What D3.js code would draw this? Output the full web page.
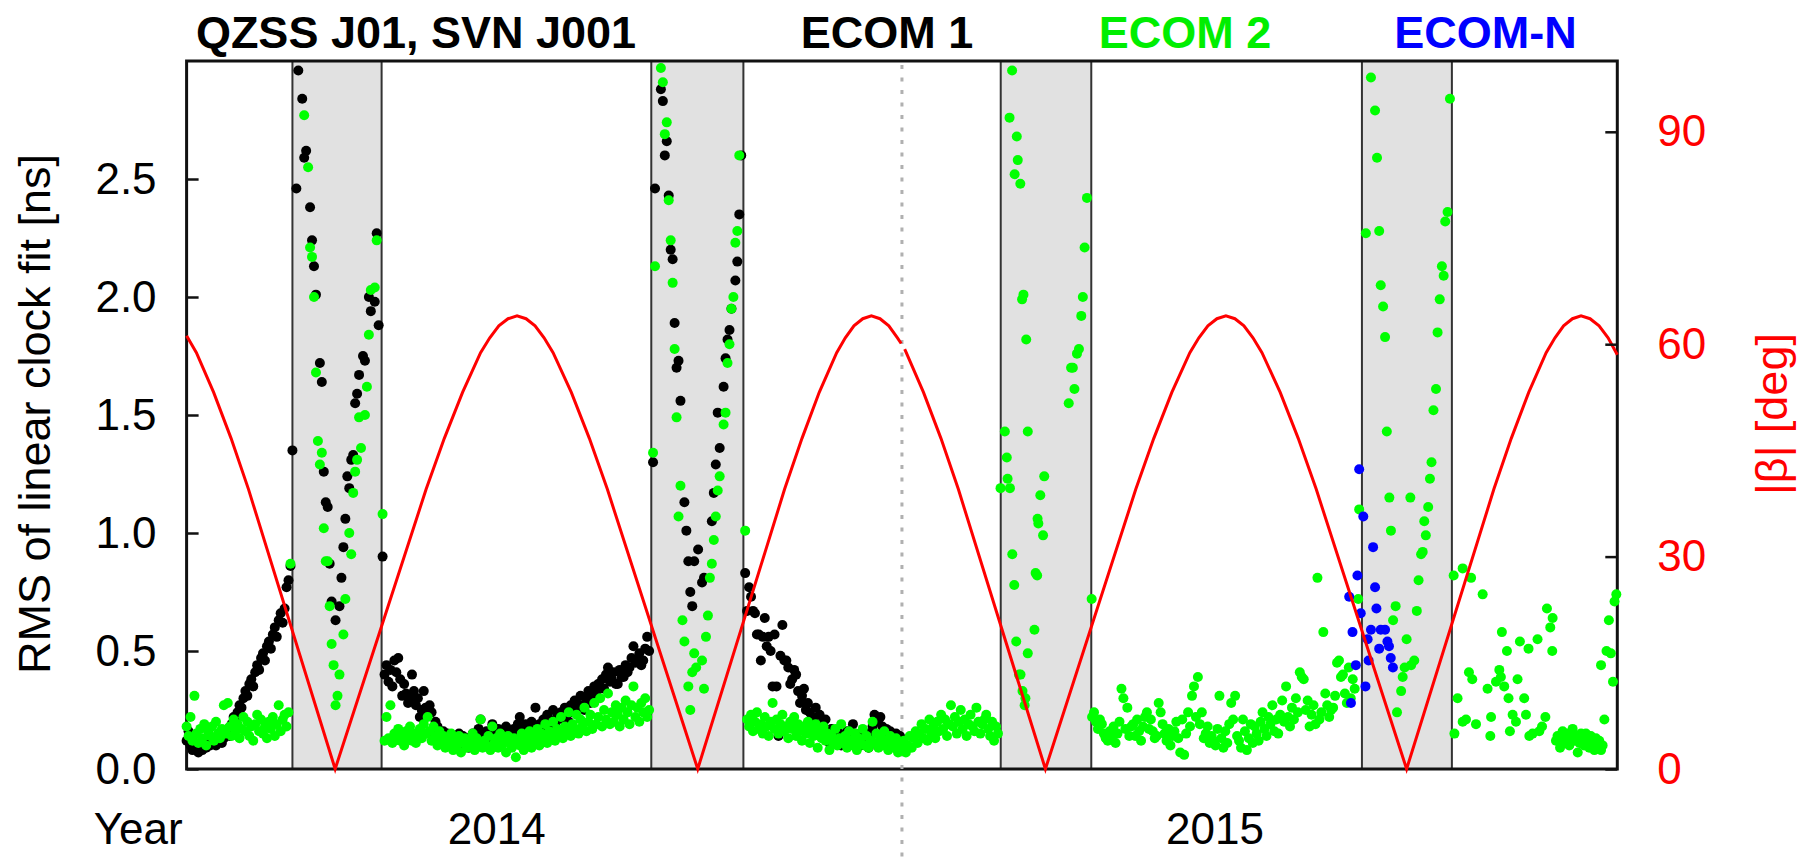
<!DOCTYPE html>
<html>
<head>
<meta charset="utf-8">
<script src="https://cdn.jsdelivr.net/npm/d3@7"></script>
<style>
  body { margin: 0; background: #fff; }
  text { font-family: "Liberation Sans", Arial, Helvetica, sans-serif; }
</style>
</head>
<body>
<svg id="chart" width="1806" height="862"></svg>
<script>
// x values are days counted from 2014-01-01, y values are RMS in ns (|beta| in deg)

// ECOM 1 (black), one value per day of 2014, null = no solution
const ecom1Rms2014 = [
  .12,.16,.10,.08,.11,.09,.07,.10,.08,.11,
  .09,.12,.10,.11,.13,.10,.12,.14,.11,.13,
  .15,.17,.14,.19,.22,.20,.24,.27,.26,.30,
  .33,.31,.36,.38,.35,.41,.44,.42,.47,.49,
  .46,.52,.54,.51,.57,.60,.56,.63,.66,.62,
  .68,.77,.80,.86,1.35,null,2.46,2.96,null,2.84,
  2.59,2.62,null,2.38,2.24,2.13,2.01,null,1.72,1.64,
  1.26,1.13,1.11,.87,.71,null,.63,null,.69,.81,
  .94,1.06,1.24,1.19,1.31,1.33,1.55,1.59,1.67,null,
  1.75,1.73,null,2.00,1.94,null,1.98,2.27,1.88,null,
  .90,.40,.44,.37,.42,.35,.46,.41,.47,.38,
  .31,.36,.32,.28,.30,.40,.33,.27,.30,.22,
  .25,.33,.26,.23,.27,.24,.15,.20,.18,.14,
  .12,.16,.13,.15,.11,.14,.10,.13,.11,.15,
  .12,.14,.10,.13,.09,.12,.15,.11,.13,.17,
  .21,.14,.12,.16,.13,.11,.19,.15,.12,.17,
  .14,.11,.14,.18,.13,.16,.12,.17,.15,.19,
  .22,.16,.14,.19,.17,.13,.20,.18,.26,.16,
  .19,.15,.21,.18,.23,.21,.17,.25,.19,.22,
  .14,.24,.21,.26,.23,.20,.27,.24,.29,.28,
  .26,.31,.27,.25,.30,.33,.28,.31,.35,.32,
  .36,.35,.38,.34,.40,.43,.37,.38,.41,.36,
  .36,.42,.39,.39,.44,.41,.43,.47,.52,.45,
  .46,.49,.44,.46,.51,.56,.50,null,1.30,2.46,
  null,null,2.88,2.83,2.60,2.66,2.43,2.20,2.16,1.89,
  1.70,1.73,1.56,null,1.13,1.01,.88,.75,.69,.88,
  null,.93,null,.79,.81,null,null,null,1.05,1.17,
  1.29,1.51,1.36,null,1.62,1.74,1.82,1.86,1.95,null,
  2.07,2.15,2.35,2.60,null,.83,.67,.77,.73,.67,
  .66,.57,.57,.46,.56,.64,.52,.56,.50,.35,
  .57,.35,.14,.48,.61,.46,.46,.43,.36,.38,
  .42,.40,.33,.28,.31,.34,.25,.28,.24,.22,
  .20,.26,.19,.23,.18,.20,.21,.16,.11,.17,
  .14,.12,.16,.15,.10,.13,.12,.16,.14,.12,
  .19,.15,.12,.14,.10,.13,.12,.15,.09,.15,
  .18,.23,.20,.21,.22,.18,.15,.17,.12,.16,
  .14,.12,.15,.13,.14
];

// ECOM 2 (green), daily runs outside the shaded seasons
const ecom2FromDay0 = [
  .18,.14,.22,.12,.31,.15,.11,.17,.13,.19,
  .10,.16,.14,.18,.12,.20,.15,.13,.17,.27,
  .15,.28,.18,.14,.21,.16,.19,.13,.17,.22,
  .16,.20,.14,.18,.12,.19,.23,.16,.21,.15,
  .18,.13,.20,.17,.22,.14,.19,.27,.16,.21,
  .23,.18,.24
];
const ecom2FromDay101 = [
  .12,.22,.13,.27,.11,.15,.13,.17,.12,.14,
  .10,.16,.13,.18,.12,.15,.11,.14,.17,.13,
  .19,.15,.22,.16,.12,.18,.14,.10,.16,.12,
  .14,.09,.13,.11,.15,.08,.12,.10,.14,.07,
  .11,.13,.09,.12,.10,.15,.08,.13,.11,.21,
  .09,.12,.10,.14,.08,.18,.11,.13,.09,.15,
  .10,.12,.07,.14,.11,.09,.13,.05,.12,.10,
  .15,.08,.13,.11,.16,.09,.14,.12,.17,.10,
  .15,.13,.19,.11,.16,.14,.20,.12,.17,.15,
  .22,.13,.18,.16,.24,.14,.19,.17,.23,.15,
  .21,.18,.26,.16,.20,.23,.17,.28,.19,.22,
  .30,.18,.25,.21,.32,.19,.24,.20,.27,.23,
  .18,.26,.21,.29,.24,.19,.27,.35,.22,.26,
  .20,.28,.24,.30,.22,.25
];
const ecom2FromDay286 = [
  .21,.18,.23,.16,.20,.24,.17,.19,.15,.22,
  .18,.14,.20,.28,.17,.21,.15,.19,.23,.16,
  .18,.13,.20,.17,.22,.14,.19,.16,.12,.18,
  .15,.20,.11,.17,.14,.19,.09,.16,.13,.18,
  .12,.15,.08,.14,.11,.17,.10,.13,.19,.11,
  .14,.09,.16,.12,.10,.15,.08,.13,.11,.17,
  .10,.14,.09,.12,.20,.11,.15,.09,.13,.10,
  .16,.12,.08,.14,.11,.09,.13,.07,.10,.08,
  .12,.07,.10,.14,.09,.13,.16,.11,.15,.19,
  .13,.17,.12,.21,.15,.18,.13,.20,.16,.23,
  .17,.21,.14,.19,.27,.18,.22,.15,.20,.25,
  .17,.21,.14,.19,.23,.18,.16,.26,.20,.15,
  .19,.21,.23,.17,.14,.20,.12,.18,.15
];
const ecom2FromDay462 = [
  .22,.24,.20,.17,.21,.19,.15,.13,.12,.16,
  .13,.18,.11,.15,.20,.34,.30,.17,.26,.14,
  .18,.19,.14,.21,.16,.12,.18,.22,.24,.17,
  .21,.16,.13,.14,.28,.24,.19,.15,.12,.17,
  .10,.14,.16,.20,.13,.07,.21,.06,.15,.24,
  .18,.31,.35,.22,.39,.19,.24,.13,.15,.18,
  .11,.14,.12,.10,.17,.31,.13,.09,.16,.11,
  .19,.28,.21,.31,.14,.12,.09,.21,.16,.08,
  .13,.19,.11,.18,.15,.12,.20,.24,.17,.14,
  .22,.19,.27,.16,.21,.15,.23,.29,.20,.35,
  .22,.18,.26,.21,.30,.24,.41,.39,.38,.25,
  .29,.18,.23,.27,.19,.81,.21,.24,.58,.32,
  .27,.22,.25,.26,.31,.45,.46,.39,.40,.32,
  .28,.43,.30,.38,.34
];

// ECOM 2 (green) points read as [day, rms] inside the seasons and at the end
const ecom2Season1 = [
  [53,.87],[60,2.77],[62,2.55],[63,2.21],[64,2.17],[65,2.00],[66,1.68],[67,1.39],
  [68,1.29],[69,1.34],[70,1.02],[71,.88],[72,.88],[73,.69],[74,.53],[75,.44],
  [76,.27],[77,.31],[78,.40],[80,.57],[81,.72],[83,1.00],[84,.91],[85,1.17],
  [86,1.26],[87,1.31],[88,1.49],[89,1.36],[91,1.50],[92,1.62],[93,1.84],[94,2.03],
  [96,2.04],[97,2.24],[100,1.08]
];
const ecom2Season2 = [
  [238,1.34],[239,2.13],[242,2.97],[243,2.91],[244,2.69],[245,2.74],[246,2.41],
  [247,2.24],[248,2.06],[249,1.78],[250,1.49],[251,1.07],[252,1.20],[253,.63],
  [254,.54],[256,.35],[257,.25],[258,.41],[259,.49],[260,.43],[263,.46],[264,.34],
  [265,.56],[266,.65],[267,.81],[268,.87],[269,.97],[270,1.07],[271,1.18],[272,1.24],
  [274,1.46],[275,1.51],[276,1.72],[277,1.80],[278,1.95],[279,2.00],[280,2.23],
  [281,2.28],[282,2.60],[285,1.01]
];
const ecom2Season3 = [
  [415.3,1.19],[417.5,1.43],[418.5,1.32],[418.9,1.23],[420.1,1.19],[421.3,.91],
  [422.3,.78],[423.3,.54],[424.7,.40],[425.5,.40],[426.5,.33],[428.0,.30],[427.6,.27],
  [429.2,.49],[432.6,.59],[433.2,.83],[434.0,.82],[434.2,1.06],[434.6,1.04],
  [435.6,1.16],[437.0,.99],[437.6,1.24],[461.8,.72],
  [421.2,2.96],[419.9,2.76],[423.6,2.68],[424.1,2.58],[422.5,2.52],[425.4,2.48],
  [459.4,2.42],[458.2,2.21],[427.0,2.01],[426.3,1.99],[457.3,2.00],[456.5,1.92],
  [428.4,1.82],[455.3,1.78],[454.3,1.76],[452.2,1.70],[451.3,1.70],[453.0,1.61],
  [450.1,1.55],[429.2,1.43]
];
const ecom2Season4 = [
  [597.8,.72],[598.3,1.10],[601.7,2.27],[604.3,2.93],[606.4,2.79],[607.4,2.59],
  [608.5,2.28],[609.3,2.05],[610.5,1.96],[611.5,1.83],[612.4,1.43],[613.7,1.15],
  [614.5,1.01],[615.6,.63],[616.9,.69],[617.6,.24],[619.7,.33],[620.5,.39],
  [621.5,.43],[622.5,.55],[624.4,1.15],[624.8,.44],[626.4,.46],[627.7,.67],
  [628.6,.80],[629.9,.91],[630.7,.92],[631.5,1.05],[632.3,.99],[633.5,1.11],
  [634.4,1.23],[635.2,1.30],[636.2,1.52],[637.5,1.61],[638.3,1.85],[639.4,1.99],
  [640.5,2.13],[641.4,2.09],[642.2,2.32],[643.4,2.36],[644.6,2.84]
];
const ecom2AfterSeason4 = [
  [646.5,.82],[646.9,.15],[648.5,.30],[651.1,.85],[651.1,.20],[652.8,.21],[654.3,.41],
  [655.4,.81],[656.0,.38],[657.9,.19],[661.3,.74],[663.8,.34],[665.2,.14],[665.6,.22],
  [668.1,.37],[669.8,.42],[670.6,.39],[671.1,.58],[672.3,.35],[673.7,.50],[674.5,.30],
  [675.2,.16],[676.6,.23],[678.3,.20],[679.1,.38],[680.3,.54],[682.5,.30],[683.4,.23],
  [684.7,.51],[685.1,.14],[686.8,.15],[689.3,.55],[690.2,.16],[691.6,.18],[693.3,.22],
  [694.1,.68],[695.8,.60],[696.8,.50],[697.0,.64],[698.7,.12],[699.5,.14],[700.8,.09],
  [701.5,.13],[702.1,.16],[703.8,.11],[704.6,.15],[705.5,.10],[706.3,.13],[707.2,.17],
  [708.1,.12],[708.9,.14],[709.8,.07],[710.7,.11],[711.5,.15],[712.3,.12],[713.1,.10],
  [714.0,.15],[714.9,.13],[715.7,.09],[716.5,.14],[717.4,.12],[718.3,.08],[719.1,.13],
  [720.0,.10],[720.8,.12],[721.7,.08],[721.7,.44],[722.5,.10],[723.4,.21],[724.5,.50],
  [725.7,.63],[726.7,.49],[727.8,.37],[728.6,.71],[729.5,.74]
];

// ECOM-N (blue), [day, rms]
const ecomN = [
  [598.3,1.27],[600.4,1.07],[605.4,.94],[597.4,.82],[606.4,.77],[593.2,.73],[607.1,.68],
  [599.1,.66],[594.9,.58],[604.3,.59],[609.3,.59],[611.5,.59],[602.6,.55],[608.5,.51],
  [612.7,.54],[613.5,.52],[596.6,.44],[603.1,.46],[614.4,.47],[615.5,.43],[601.5,.35],
  [594.1,.28]
];

// |beta| of the satellite, [day, deg], one curve per year
const beta2014 = [
  [0,61.2],[5.0,58.8],[13.8,53.2],[22.7,46.7],[31.6,39.5],[75.8,0],[122.2,39.5],
  [131.5,46.7],[140.8,53.2],[150.0,58.8],[154.7,60.9],[159.3,62.6],[164.0,63.6],
  [168.6,64.0],[173.2,63.6],[177.8,62.6],[182.4,60.9],[187.0,58.8],[196.3,53.2],
  [205.5,46.7],[214.7,39.5],[260.8,0],[305.1,39.5],[314.0,46.7],[322.8,53.2],
  [331.7,58.8],[336.1,60.9],[340.5,62.6],[345.0,63.6],[349.4,64.0],[353.8,63.6],
  [358.3,62.6],[362.7,60.9],[364.6,60.1]
];
const beta2015 = [
  [366.4,59.3],[367.2,58.8],[376.0,53.2],[384.9,46.7],[393.8,39.5],[438.2,0],
  [484.3,39.5],[493.5,46.7],[502.7,53.2],[511.9,58.8],[516.5,60.9],[521.1,62.6],
  [525.7,63.6],[530.3,64.0],[534.9,63.6],[539.5,62.6],[544.1,60.9],[548.7,58.8],
  [558.0,53.2],[567.2,46.7],[576.4,39.5],[622.5,0],[667.0,39.5],[675.9,46.7],
  [684.8,53.2],[693.7,58.8],[698.2,60.9],[702.6,62.6],[707.1,63.6],[711.5,64.0],
  [716.1,63.6],[720.7,62.6],[725.3,60.9],[730,58.5]
];

// shaded seasons, [start day, end day]
const seasons = [[54.0, 99.5], [237.1, 284.1], [415.4, 461.6], [599.7, 645.6]];
const yearBreakDay = 365;

const leftTicks = [0, 0.5, 1.0, 1.5, 2.0, 2.5];
const rightTicks = [0, 30, 60, 90];
const xLabelDays = [-25, 158, 524.5];
const xLabels = ["Year", "2014", "2015"];
const headers = ["QZSS J01, SVN J001", "ECOM 1", "ECOM 2", "ECOM-N"];
const headerColors = ["#000", "#000", "#00ee00", "#0000ff"];

const box = {left: 186.6, right: 1617.3, top: 61, bottom: 769};
const svg = d3.select("#chart");

const x = d3.scaleLinear().domain([0, 730]).range([box.left, box.right]);
const y = d3.scaleLinear().domain([0, 3]).range([box.bottom, box.top]);
const y2 = d3.scaleLinear().domain([0, 100]).range([box.bottom, box.top]);

function daily(start, values) {
  return values.map((v, i) => [start + i, v]).filter(d => d[1] != null);
}

const black = daily(0, ecom1Rms2014);
const green = [].concat(
  daily(0, ecom2FromDay0), ecom2Season1,
  daily(101, ecom2FromDay101), ecom2Season2,
  daily(286, ecom2FromDay286), ecom2Season3,
  daily(462, ecom2FromDay462), ecom2Season4, ecom2AfterSeason4
);

svg.append("rect").attr("width", 1806).attr("height", 862).attr("fill", "#fff");

// seasons
const seas = svg.append("g");
seas.selectAll("rect").data(seasons).enter().append("rect")
  .attr("x", d => x(d[0]))
  .attr("y", box.top)
  .attr("width", d => x(d[1]) - x(d[0]))
  .attr("height", box.bottom - box.top)
  .attr("fill", "#e1e1e1");
seas.selectAll("line").data(seasons.flat()).enter().append("line")
  .attr("x1", d => x(d)).attr("x2", d => x(d))
  .attr("y1", box.top).attr("y2", box.bottom)
  .attr("stroke", "#333").attr("stroke-width", 2);

// border
svg.append("rect")
  .attr("x", box.left).attr("y", box.top)
  .attr("width", box.right - box.left).attr("height", box.bottom - box.top)
  .attr("fill", "none").attr("stroke", "#111").attr("stroke-width", 3);

// year change
svg.append("line")
  .attr("x1", x(yearBreakDay)).attr("x2", x(yearBreakDay))
  .attr("y1", box.top + 4).attr("y2", 862)
  .attr("stroke", "#b0b0b0").attr("stroke-width", 3)
  .attr("stroke-dasharray", "4 8.5");

function dots(data, color) {
  svg.append("g").selectAll("circle").data(data).enter().append("circle")
    .attr("cx", d => x(d[0]))
    .attr("cy", d => y(d[1]))
    .attr("r", 5)
    .attr("fill", color);
}
dots(black, "#000");
dots(green, "#00ff00");
dots(ecomN, "#0000ff");

// beta angle
const betaLine = d3.line().x(d => x(d[0])).y(d => y2(d[1]));
[beta2014, beta2015].forEach(b => {
  svg.append("path").datum(b)
    .attr("d", betaLine)
    .attr("fill", "none")
    .attr("stroke", "#ff0000")
    .attr("stroke-width", 3);
});

// axes
const yAxis = svg.append("g")
  .attr("transform", `translate(${box.left},0)`)
  .call(d3.axisLeft(y).tickValues(leftTicks).tickFormat(d3.format(".1f"))
    .tickSizeInner(-12).tickSizeOuter(0).tickPadding(30));
yAxis.select(".domain").remove();
yAxis.selectAll("line").attr("stroke", "#111").attr("stroke-width", 2.5);
yAxis.selectAll("text").attr("font-size", 44).attr("fill", "#000")
  .style("font-family", '"Liberation Sans", Arial, sans-serif');

const y2Axis = svg.append("g")
  .attr("transform", `translate(${box.right},0)`)
  .call(d3.axisRight(y2).tickValues(rightTicks)
    .tickSizeInner(-12).tickSizeOuter(0).tickPadding(40));
y2Axis.select(".domain").remove();
y2Axis.selectAll("line").attr("stroke", "#111").attr("stroke-width", 2.5);
y2Axis.selectAll("text").attr("font-size", 44).attr("fill", "#ff0000")
  .style("font-family", '"Liberation Sans", Arial, sans-serif');

const xAxis = svg.append("g")
  .attr("transform", `translate(0,${box.bottom})`)
  .call(d3.axisBottom(x).tickValues(xLabelDays)
    .tickFormat((d, i) => xLabels[i]).tickSize(0).tickPadding(44));
xAxis.select(".domain").remove();
xAxis.selectAll("text").attr("font-size", 44).attr("fill", "#000")
  .style("font-family", '"Liberation Sans", Arial, sans-serif');

// axis titles
svg.append("text")
  .attr("transform", "translate(50,414) rotate(-90)")
  .attr("text-anchor", "middle")
  .attr("font-size", 45)
  .text("RMS of linear clock fit [ns]");
svg.append("text")
  .attr("transform", "translate(1787,414) rotate(-90)")
  .attr("text-anchor", "middle")
  .attr("font-size", 45)
  .attr("fill", "#ff0000")
  .text("|β| [deg]");

// headers over the plot
const headerX = [416, 887, 1185, 1485.4];
svg.selectAll(".hdr").data(headers).enter().append("text")
  .attr("class", "hdr")
  .attr("x", (d, i) => headerX[i])
  .attr("y", 48)
  .attr("text-anchor", "middle")
  .attr("font-size", 45)
  .attr("font-weight", "bold")
  .attr("fill", (d, i) => headerColors[i])
  .text(d => d);
</script>
</body>
</html>
